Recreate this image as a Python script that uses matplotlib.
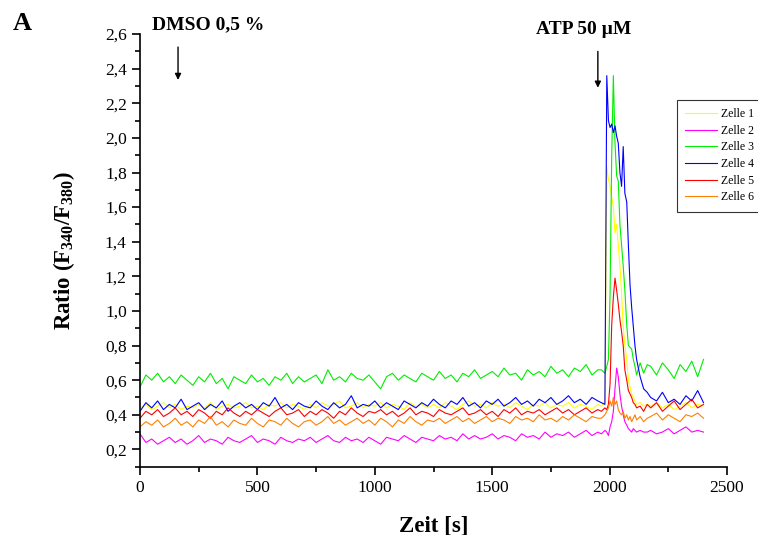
import numpy as np
import matplotlib
matplotlib.use("Agg")
import matplotlib.pyplot as plt
from matplotlib.ticker import MultipleLocator, FuncFormatter

plt.rcParams['font.family'] = ['Liberation Serif', 'DejaVu Serif']
plt.rcParams['mathtext.fontset'] = 'custom'
plt.rcParams['mathtext.rm'] = 'Liberation Serif'
plt.rcParams['mathtext.bf'] = 'Liberation Serif:bold'
plt.rcParams['mathtext.default'] = 'bf'

# sampling times [s]: baseline, ATP response, tail
t_base = np.arange(0, 1951, 25)
t_peak = [1965, 1980, 1988, 1995, 2002, 2009, 2016, 2023, 2030, 2037, 2044, 2051,
          2058, 2065, 2073, 2080, 2087, 2094, 2101, 2108, 2115, 2130, 2145, 2160]
t_tail = np.arange(2175, 2401, 25)
zeit = np.concatenate([t_base, t_peak, t_tail])

# Zelle 1 (yellow)
zelle1 = [0.44, 0.46, 0.43, 0.45, 0.47, 0.44, 0.46, 0.43, 0.45, 0.44,
          0.46, 0.44, 0.47, 0.43, 0.45, 0.46, 0.44, 0.45, 0.47, 0.44,
          0.45, 0.43, 0.46, 0.45, 0.47, 0.44, 0.46, 0.45, 0.43, 0.46,
          0.44, 0.47, 0.45, 0.46, 0.48, 0.44, 0.45, 0.47, 0.44, 0.46,
          0.45, 0.47, 0.44, 0.46, 0.45, 0.43, 0.47, 0.45, 0.46, 0.44,
          0.46, 0.44, 0.47, 0.45, 0.43, 0.46, 0.48, 0.45, 0.46, 0.44,
          0.47, 0.45, 0.46, 0.44, 0.47, 0.45, 0.43, 0.46, 0.45, 0.47,
          0.44, 0.46, 0.45, 0.47, 0.44, 0.46, 0.45, 0.43, 0.46,
          0.45, 0.48, 1.83, 1.76, 1.72, 1.66, 1.60, 1.45, 1.50, 1.38, 1.26, 1.10,
          0.91, 0.80, 0.72, 0.60, 0.56, 0.52, 0.50, 0.48, 0.46, 0.47, 0.45, 0.46,
          0.45, 0.47, 0.44, 0.46, 0.43, 0.45, 0.47, 0.44, 0.46, 0.45]

# Zelle 2 (magenta)
zelle2 = [0.29, 0.24, 0.26, 0.23, 0.25, 0.27, 0.24, 0.26, 0.23, 0.25,
          0.28, 0.24, 0.26, 0.25, 0.23, 0.27, 0.25, 0.24, 0.26, 0.28,
          0.24, 0.26, 0.25, 0.23, 0.27, 0.25, 0.24, 0.26, 0.25, 0.27,
          0.24, 0.26, 0.28, 0.25, 0.24, 0.27, 0.25, 0.26, 0.24, 0.27,
          0.25, 0.23, 0.27, 0.26, 0.25, 0.28, 0.26, 0.24, 0.27, 0.26,
          0.25, 0.28, 0.26, 0.27, 0.25, 0.29, 0.26, 0.28, 0.26, 0.27,
          0.29, 0.26, 0.28, 0.27, 0.25, 0.29, 0.27, 0.28, 0.26, 0.30,
          0.27, 0.29, 0.28, 0.30, 0.27, 0.29, 0.31, 0.28, 0.30,
          0.29, 0.31, 0.30, 0.28, 0.33, 0.36, 0.42, 0.55, 0.67, 0.62, 0.52, 0.45,
          0.40, 0.36, 0.34, 0.32, 0.31, 0.30, 0.32, 0.31, 0.30, 0.31, 0.30, 0.30,
          0.31, 0.29, 0.30, 0.32, 0.29, 0.31, 0.33, 0.30, 0.31, 0.30]

# Zelle 3 (green)
zelle3 = [0.56, 0.63, 0.60, 0.64, 0.59, 0.62, 0.58, 0.63, 0.60, 0.57,
          0.62, 0.59, 0.64, 0.58, 0.61, 0.55, 0.62, 0.60, 0.58, 0.63,
          0.59, 0.61, 0.57, 0.62, 0.60, 0.64, 0.58, 0.62, 0.59, 0.61,
          0.63, 0.58, 0.66, 0.60, 0.62, 0.59, 0.64, 0.61, 0.60, 0.63,
          0.59, 0.55, 0.62, 0.64, 0.60, 0.63, 0.61, 0.59, 0.64, 0.62,
          0.60, 0.65, 0.61, 0.63, 0.59, 0.64, 0.62, 0.66, 0.61, 0.63,
          0.65, 0.62, 0.67, 0.63, 0.64, 0.60, 0.66, 0.63, 0.65, 0.62,
          0.68, 0.64, 0.66, 0.62, 0.67, 0.65, 0.69, 0.63, 0.66,
          0.66, 0.64, 0.68, 0.72, 1.10, 1.90, 2.36, 1.97, 1.78, 1.75, 1.50, 1.38,
          1.26, 1.12, 0.92, 0.80, 0.79, 0.78, 0.72, 0.68, 0.63, 0.70, 0.64, 0.69,
          0.68, 0.63, 0.70, 0.66, 0.61, 0.69, 0.65, 0.71, 0.62, 0.72]

# Zelle 4 (blue)
zelle4 = [0.42, 0.47, 0.44, 0.48, 0.43, 0.46, 0.44, 0.49, 0.43, 0.45,
          0.47, 0.43, 0.46, 0.44, 0.48, 0.42, 0.45, 0.47, 0.44, 0.46,
          0.43, 0.47, 0.45, 0.50, 0.44, 0.46, 0.43, 0.47, 0.45, 0.44,
          0.48, 0.45, 0.43, 0.47, 0.44, 0.46, 0.51, 0.44, 0.46, 0.45,
          0.48, 0.44, 0.47, 0.45, 0.43, 0.48, 0.46, 0.44, 0.47, 0.45,
          0.49, 0.46, 0.44, 0.48, 0.46, 0.50, 0.45, 0.47, 0.44, 0.48,
          0.46, 0.49, 0.45, 0.47, 0.50, 0.46, 0.48, 0.45, 0.49, 0.47,
          0.50, 0.46, 0.48, 0.51, 0.47, 0.49, 0.46, 0.50, 0.48,
          0.47, 0.46, 2.36, 2.10, 2.06, 2.08, 2.03, 2.07, 2.01, 1.97, 1.80, 1.72,
          1.95, 1.68, 1.63, 1.38, 1.15, 1.02, 0.91, 0.80, 0.72, 0.62, 0.55, 0.53,
          0.50, 0.48, 0.53, 0.47, 0.49, 0.46, 0.51, 0.48, 0.54, 0.47]

# Zelle 5 (red)
zelle5 = [0.38, 0.42, 0.40, 0.43, 0.39, 0.41, 0.44, 0.40, 0.42, 0.39,
          0.43, 0.41, 0.38, 0.42, 0.40, 0.44, 0.41, 0.39, 0.42, 0.40,
          0.43, 0.41, 0.39, 0.42, 0.44, 0.40, 0.41, 0.43, 0.39, 0.42,
          0.40, 0.43, 0.41, 0.38, 0.42, 0.40, 0.44, 0.41, 0.39, 0.42,
          0.41, 0.43, 0.40, 0.42, 0.39, 0.41, 0.44, 0.40, 0.42, 0.41,
          0.39, 0.43, 0.41, 0.40, 0.42, 0.44, 0.40, 0.41, 0.43, 0.40,
          0.42, 0.39, 0.43, 0.41, 0.44, 0.40, 0.42, 0.41, 0.43, 0.40,
          0.42, 0.44, 0.41, 0.43, 0.40, 0.42, 0.44, 0.41, 0.43,
          0.42, 0.44, 0.43, 0.46, 0.58, 0.92, 1.08, 1.19, 1.12, 1.04, 0.95, 0.88,
          0.80, 0.66, 0.60, 0.54, 0.52, 0.50, 0.47, 0.46, 0.44, 0.45, 0.42, 0.46,
          0.44, 0.47, 0.42, 0.45, 0.48, 0.43, 0.46, 0.49, 0.44, 0.46]

# Zelle 6 (orange)
zelle6 = [0.33, 0.36, 0.34, 0.37, 0.33, 0.35, 0.38, 0.34, 0.36, 0.33,
          0.37, 0.35, 0.39, 0.34, 0.36, 0.33, 0.37, 0.35, 0.34, 0.38,
          0.35, 0.33, 0.37, 0.36, 0.34, 0.38, 0.35, 0.33, 0.36, 0.37,
          0.34, 0.36, 0.39, 0.35, 0.37, 0.34, 0.36, 0.38, 0.35, 0.37,
          0.34, 0.38, 0.36, 0.33, 0.37, 0.35, 0.39, 0.36, 0.34, 0.37,
          0.36, 0.38, 0.35, 0.37, 0.39, 0.36, 0.38, 0.35, 0.37, 0.39,
          0.36, 0.38, 0.37, 0.35, 0.39, 0.37, 0.38, 0.36, 0.40, 0.37,
          0.38, 0.36, 0.39, 0.37, 0.40, 0.38, 0.36, 0.39, 0.38,
          0.38, 0.40, 0.42, 0.44, 0.48, 0.45, 0.50, 0.46, 0.48, 0.43, 0.41, 0.40,
          0.42, 0.38, 0.40, 0.37, 0.39, 0.36, 0.38, 0.40, 0.37, 0.39, 0.36, 0.38,
          0.39, 0.41, 0.37, 0.40, 0.38, 0.36, 0.40, 0.39, 0.41, 0.38]

labels = ['Zelle 1', 'Zelle 2', 'Zelle 3', 'Zelle 4', 'Zelle 5', 'Zelle 6']
colors = ['#ffff00', '#ff00ff', '#00ee00', '#0000ff', '#ff0000', '#ff8000']
cells = [zelle1, zelle2, zelle3, zelle4, zelle5, zelle6]

fig = plt.figure(figsize=(7.58, 5.35), dpi=100)
ax = fig.add_axes([140 / 758, 1 - 466.7 / 535, 587 / 758, 432.6 / 535])

lines = []
for vals, lab, col in zip(cells, labels, colors):
    ln, = ax.plot(zeit, vals, color=col, lw=0.8, label=lab)
    lines.append(ln)

ax.set_xlim(0, 2500)
ax.set_ylim(0.1, 2.6)
ax.spines['top'].set_visible(False)
ax.spines['right'].set_visible(False)
for s in ['left', 'bottom']:
    ax.spines[s].set_linewidth(1.2)

ax.xaxis.set_major_locator(MultipleLocator(500))
ax.xaxis.set_minor_locator(MultipleLocator(250))
ax.yaxis.set_major_locator(MultipleLocator(0.2))
ax.yaxis.set_minor_locator(MultipleLocator(0.1))
ax.yaxis.set_major_formatter(FuncFormatter(lambda v, p: f"{v:.1f}".replace('.', ',')))
ax.set_yticks(np.arange(0.2, 2.61, 0.2))
ax.tick_params(which='major', direction='out', length=6, width=1.2, labelsize=12.5)
ax.tick_params(which='minor', direction='out', length=3.5, width=1.2)

ax.set_xlabel('Zeit [s]', fontsize=16.5, fontweight='bold')
ax.xaxis.set_label_coords(0.5, -0.112)
ax.set_ylabel('Ratio (F$_{340}$/F$_{380}$)', fontsize=16.5, fontweight='bold')
ax.yaxis.set_label_coords(-0.108, 0.5)

fig.text(22 / 758, 1 - 24 / 535, 'A', fontsize=19, fontweight='bold', ha='center', va='center')
fig.text(208 / 758, 1 - 25 / 535, 'DMSO 0,5 %', fontsize=14, fontweight='bold', ha='center', va='center')
fig.text(584 / 758, 1 - 29 / 535, 'ATP 50 µM', fontsize=14, fontweight='bold', ha='center', va='center')

arrow = dict(arrowstyle='-|>', color='black', lw=1.0, mutation_scale=9, shrinkA=0, shrinkB=0)
ax.annotate('', xy=(162, 2.335), xytext=(162, 2.525), xycoords='data', arrowprops=arrow,
            annotation_clip=False)
ax.annotate('', xy=(1950, 2.29), xytext=(1950, 2.50), xycoords='data', arrowprops=arrow,
            annotation_clip=False)

leg = fig.legend(handles=lines, loc='upper left', bbox_to_anchor=(677 / 758, 1 - 100 / 535),
                 fontsize=8.5, frameon=True, fancybox=False, edgecolor='black',
                 handlelength=2.7, handletextpad=0.3, labelspacing=0.39,
                 borderpad=0.7, borderaxespad=0)
leg.get_frame().set_linewidth(0.8)

fig.savefig('out.png', dpi=100)
